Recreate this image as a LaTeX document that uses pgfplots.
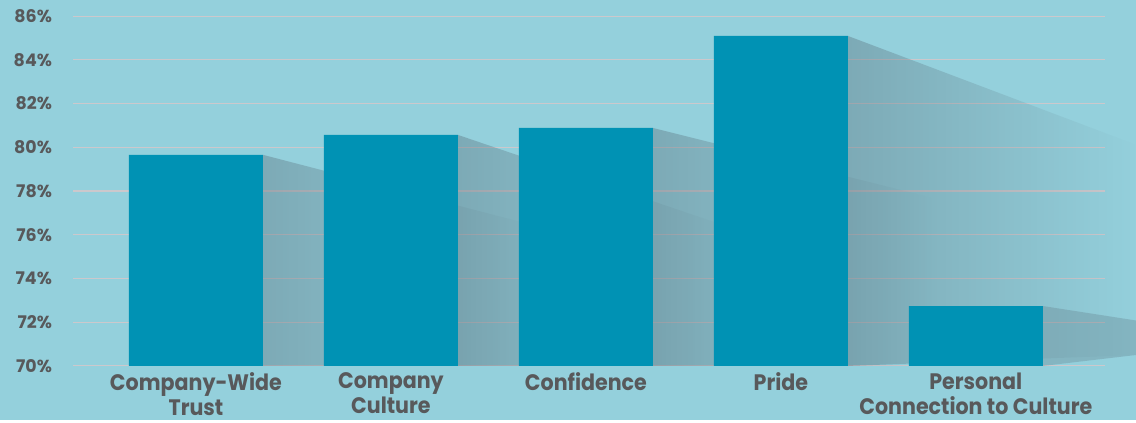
\documentclass[border=0pt]{standalone}
\usepackage{fontspec}
\setmainfont{Poppins}
\newfontfamily\catfont{Poppins}[FakeStretch=0.92]
\usepackage{pgfplots}
\pgfplotsset{compat=1.18}
\usetikzlibrary{backgrounds,fadings}

\definecolor{bgcol}{HTML}{94D0DC}
\definecolor{barcol}{HTML}{0092B4}
\definecolor{gridcol}{HTML}{CCC8CC}
\definecolor{labelcol}{HTML}{58595B}
\definecolor{shadecol}{HTML}{5B727E}

\begin{document}
\begin{tikzpicture}
\begin{axis}[
  scale only axis,
  width=531.5pt, height=175pt,
  xmin=-0.6308, xmax=4.8205,
  ymin=70, ymax=86,
  axis line style={draw=none},
  major tick length=0pt,
  xtick={0,1,2,3,4},
  xticklabels={{Company-Wide\\Trust},{Company\\Culture},{Confidence},{Pride},{Personal\\Connection to Culture}},
  xticklabel style={align=center, text=labelcol, font=\catfont\bfseries\fontsize{11.2}{12.5}\selectfont},
  ytick={70,72,...,86},
  yticklabel={\pgfmathprintnumber{\tick}\%},
  yticklabel style={text=labelcol, font=\bfseries\fontsize{8.7}{10}\selectfont, xshift=-7pt},
  /pgf/number format/assume math mode=true,
]
% gridlines (stop short of the right edge like the original)
\pgfplotsinvokeforeach{70,72,...,86}{
  \draw[gridcol, line width=0.7pt] (axis cs:-0.6308,#1) -- (axis cs:4.6615,#1);
}
% long shadows behind the bars, each fading out to the right
\addplot[draw=none, fill=shadecol, fill opacity=0.4, path fading=east] coordinates {(0.3436,79.65) (1.7796,76.32) (1.7796,70) (0.3436,70)} --cycle;
\addplot[draw=none, fill=shadecol, fill opacity=0.4, path fading=east] coordinates {(1.3436,80.56) (2.7796,76.21) (2.7796,70) (1.3436,70)} --cycle;
\addplot[draw=none, fill=shadecol, fill opacity=0.4, path fading=east] coordinates {(2.3436,80.88) (3.7796,77.68) (3.7796,70) (2.3436,70)} --cycle;
\addplot[draw=none, fill=shadecol, fill opacity=0.4, path fading=east] coordinates {(3.3436,85.09) (4.8205,80.12) (4.8205,70.5) (3.3436,70)} --cycle;
\addplot[draw=none, fill=shadecol, fill opacity=0.28] coordinates {(4.3436,72.74) (4.8205,72.08) (4.8205,70.5) (4.3436,70)} --cycle;
% bars
\addplot[ybar, bar width=0.687, fill=barcol, draw=none] coordinates {(0,79.65) (1,80.56) (2,80.88) (3,85.09) (4,72.74)};
\coordinate (bgsw) at (rel axis cs:-0.06867,-0.15429);
\coordinate (bgne) at (rel axis cs:1,1.04571);
\end{axis}
\begin{scope}[on background layer]
\fill[bgcol] (bgsw) rectangle (bgne);
\end{scope}
\end{tikzpicture}
\end{document}
